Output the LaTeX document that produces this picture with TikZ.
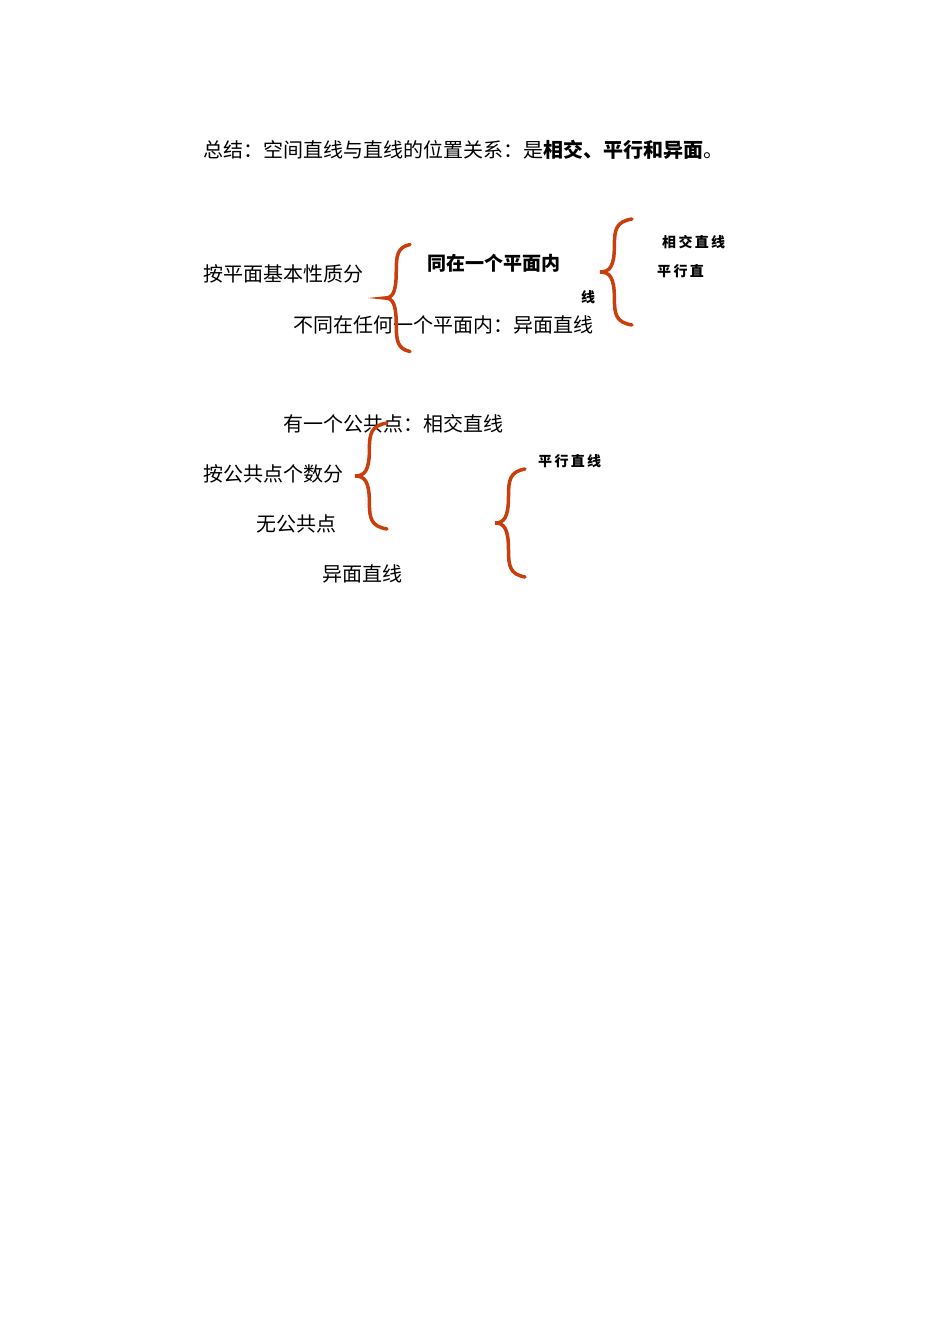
\documentclass[tikz,border=0pt]{standalone}
\usepackage{fontspec}
\setmainfont{Noto Sans CJK SC}
\definecolor{braceor}{RGB}{200,62,12}
\begin{document}
\begin{tikzpicture}[x=1pt,y=1pt,
  txt/.style={anchor=west,inner sep=0pt,font=\fontsize{20}{22}\selectfont},
  btxt/.style={anchor=west,inner sep=0pt,font=\fontsize{19}{22}\selectfont\bfseries},
  stxt/.style={anchor=west,inner sep=0pt,font=\fontsize{14}{16}\selectfont\bfseries},
  bracepath/.style={braceor,line width=3.5pt,line cap=round}]
\useasboundingbox[fill=white] (0,0) rectangle (950,-1344);
\node[txt] (sum) at (203,-150) {总结：空间直线与直线的位置关系：是\textbf{相交、平行和异面}。};
\node[txt] (a1) at (203,-274) {按平面基本性质分};
\node[btxt] (a2) at (427,-263) {同在一个平面内};
\node[stxt] (a3) at (662,-242) {相\,交\,直\,线};
\node[stxt] (a4) at (657,-271) {平\,行\,直};
\node[stxt] (a5) at (581,-297) {线};
\node[txt] (a6) at (293,-325) {不同在任何一个平面内：异面直线};
\node[txt] (b1) at (283,-424) {有一个公共点：相交直线};
\node[txt] (b2) at (203,-474) {按公共点个数分};
\node[stxt] (b3) at (538,-461) {平\,行\,直\,线};
\node[txt] (b4) at (256,-524) {无公共点};
\node[txt] (b5) at (322,-574) {异面直线};
\foreach \tx/\ty/\sx/\sy in {385/298/25/53.5, 600/272/32/53, 355/476/32/53, 495/523/30/54}{
  \begin{scope}[shift={(\tx,-\ty)},xscale=\sx,yscale=\sy]
  \draw[bracepath]
    (1,1) .. controls (0.5,0.95) and (0.45,0.8) .. (0.45,0.5)
    .. controls (0.45,0.1) and (0.3,0) .. (0,0)
    .. controls (0.3,0) and (0.45,-0.1) .. (0.45,-0.5)
    .. controls (0.45,-0.8) and (0.5,-0.95) .. (1,-1);
  \end{scope}
}
\end{tikzpicture}
\end{document}
